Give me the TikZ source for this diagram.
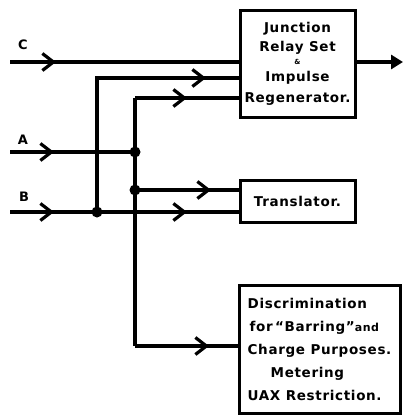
\documentclass[tikz,border=0pt]{standalone}
\usepackage{fontspec}
\newfontfamily\blockfont{DejaVu Sans}[LetterSpace=5]
\usetikzlibrary{arrows.meta,decorations.markings}
\tikzset{
	wire/.style={line width=4pt},
	blk/.style={draw, line width=3pt, inner sep=0pt, font=\blockfont\bfseries\fontsize{13.5}{20}\selectfont},
	midarrow/.style={postaction={decorate,decoration={markings,
		mark=at position #1 with {\arrow{Straight Barb[length=11pt,width=17pt,line width=3.2pt]}}}}},
	lbl/.style={font=\blockfont\bfseries\fontsize{13}{13}\selectfont}
}
\begin{document}
\begin{tikzpicture}[x=1pt, y=-1pt]
	\useasboundingbox (0,0) rectangle (405,415);
	% blocks
	\node[blk, minimum width=115pt, minimum height=107pt, align=center] (jrs) at (297.5,63.5)
		{Junction\\[-1pt]Relay Set\\[-7pt]{\fontsize{7}{7}\selectfont\&}\\[-3pt]Impulse\\[1pt]Regenerator.};
	\node[blk, minimum width=115pt, minimum height=42pt] (tr) at (297.5,201) {Translator.};
	\node[blk, minimum width=161pt, minimum height=128pt, align=left, font=\blockfont\bfseries\fontsize{13.5}{23}\selectfont] (disc) at (319.5,349)
		{Discrimination\\\hspace{2pt}for\,“Barring”{\fontsize{11}{11}\selectfont and}\\Charge Purposes.\\\hspace{23pt}Metering\\UAX Restriction.};
	% free ends, corners and junctions
	\coordinate (c) at (10,62); \coordinate (a) at (10,152); \coordinate (b) at (10,212);
	\coordinate (k1) at (97,78); \coordinate (k2) at (135,98); \coordinate (k3) at (135,346);
	\coordinate (j1) at (97,212); \coordinate (j2) at (135,152); \coordinate (j3) at (135,190);
	\coordinate (out) at (403,62);
	% wires
	\draw[wire, midarrow=46pt] (c) -- (c -| jrs.west);
	\draw[wire, midarrow=44pt] (a) -- (j2);
	\draw[wire, midarrow=44pt, midarrow=177pt] (b) -- (b -| tr.west);
	\draw[wire, midarrow=243pt] (j1) -- (k1) -- (k1 -| jrs.west);
	\draw[wire, midarrow=52pt] (k2) -- (k2 -| jrs.west);
	\draw[wire] (k2) -- (k3);
	\draw[wire, midarrow=74pt] (k3) -- (k3 -| disc.west);
	\draw[wire, midarrow=76pt] (j3) -- (j3 -| tr.west);
	\draw[wire, -{Triangle[length=12pt,width=14pt]}] (jrs.east |- c) -- (out);
	\foreach \p in {j1,j2,j3} \fill (\p) circle (5.5pt);
	% labels
	\node[lbl] at (23,45) {C};
	\node[lbl] at (23,140) {A};
	\node[lbl] at (24,197) {B};
\end{tikzpicture}
\end{document}
